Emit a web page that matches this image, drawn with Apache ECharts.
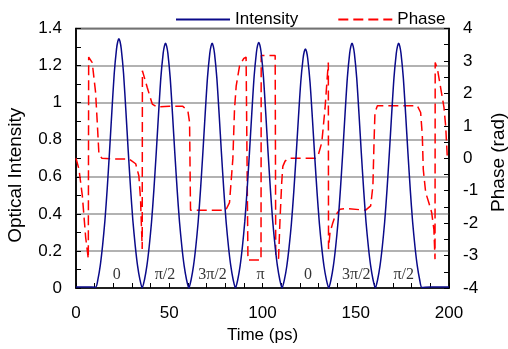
<!DOCTYPE html>
<html>
<head>
<meta charset="utf-8">
<script src="https://cdn.jsdelivr.net/npm/echarts@6/dist/echarts.min.js"></script>
<style>
html,body{margin:0;padding:0;background:#fff;}
#chart{width:508px;height:349px;}
</style>
</head>
<body>
<div id="chart"></div>
<script>
// Intensity samples [time ps, optical intensity]
const intensity = [
[0,0.005],[5,0.006],[10.5,0.004],
[11.75,0.047],[13,0.121],[14.25,0.229],[15.5,0.363],[16.75,0.538],[18,0.74],[19.25,0.955],[20.5,1.157],[21.75,1.291],[22.4,1.33],[23,1.345],[23.6,1.33],[24.25,1.291],[25.5,1.157],[26.75,0.955],[28,0.74],[29.25,0.538],[30.5,0.363],[31.75,0.229],[33,0.121],[34.25,0.047],[35.5,0],
[36.75,0.046],[38,0.119],[39.25,0.224],[40.5,0.356],[41.75,0.528],[43,0.726],[44.25,0.937],[45.5,1.135],[46.75,1.267],[47.4,1.305],[48,1.32],[48.6,1.305],[49.25,1.267],[50.5,1.135],[51.75,0.937],[53,0.726],[54.25,0.528],[55.5,0.356],[56.75,0.224],[58,0.119],[59.25,0.046],[60.5,0],
[61.75,0.046],[63,0.119],[64.25,0.224],[65.5,0.356],[66.75,0.528],[68,0.726],[69.25,0.937],[70.5,1.135],[71.75,1.267],[72.4,1.305],[73,1.32],[73.6,1.305],[74.25,1.267],[75.5,1.135],[76.75,0.937],[78,0.726],[79.25,0.528],[80.5,0.356],[81.75,0.224],[83,0.119],[84.25,0.046],[85.5,0],
[86.75,0.046],[88,0.119],[89.25,0.225],[90.5,0.358],[91.75,0.53],[93,0.729],[94.25,0.941],[95.5,1.14],[96.75,1.272],[97.4,1.31],[98,1.325],[98.6,1.31],[99.25,1.272],[100.5,1.14],[101.75,0.941],[103,0.729],[104.25,0.53],[105.5,0.358],[106.75,0.225],[108,0.119],[109.25,0.046],[110.5,0],
[111.75,0.045],[113,0.116],[114.25,0.219],[115.5,0.348],[116.75,0.516],[118,0.71],[119.25,0.916],[120.5,1.109],[121.75,1.238],[122.4,1.276],[123,1.29],[123.6,1.276],[124.25,1.238],[125.5,1.109],[126.75,0.916],[128,0.71],[129.25,0.516],[130.5,0.348],[131.75,0.219],[133,0.116],[134.25,0.045],[135.5,0],
[136.75,0.046],[138,0.119],[139.25,0.224],[140.5,0.356],[141.75,0.528],[143,0.726],[144.25,0.937],[145.5,1.135],[146.75,1.267],[147.4,1.305],[148,1.32],[148.6,1.305],[149.25,1.267],[150.5,1.135],[151.75,0.937],[153,0.726],[154.25,0.528],[155.5,0.356],[156.75,0.224],[158,0.119],[159.25,0.046],[160.5,0],
[161.75,0.046],[163,0.119],[164.25,0.224],[165.5,0.356],[166.75,0.528],[168,0.726],[169.25,0.937],[170.5,1.135],[171.75,1.267],[172.4,1.305],[173,1.32],[173.6,1.305],[174.25,1.267],[175.5,1.135],[176.75,0.937],[178,0.726],[179.25,0.528],[180.5,0.356],[181.75,0.224],[183,0.119],[184.25,0.046],[185.5,0.003],
[190,0.006],[195,0.005],[200,0.006]
];

// Phase samples [time ps, phase rad]
const phase = [
[0,0.0],[1.6,-0.34],[3.4,-1.16],[5.2,-2.45],[6.6,-3.1],[6.8,3.12],[8.7,2.95],[10.5,2.03],[11.4,1.1],[12.3,0.12],[13.9,0.0],[20,-0.02],[28.4,-0.02],[32,-0.17],[33.7,-0.54],[34.6,-1.25],[35.5,-2.8],[35.6,2.7],[36.4,2.54],[38.2,2.18],[40.9,1.67],[43.5,1.58],[50,1.6],[57.3,1.6],[60,1.46],[60.9,1.1],[61.4,-1.6],[70,-1.6],[80.3,-1.6],[82.3,-1.37],[84.1,-0.02],[85,1.52],[85.9,2.23],[87.7,2.85],[90,3.08],[91.2,3.12],[92.1,3.12],[92.2,-3.14],[99.2,-3.14],[99.3,3.17],[106.8,3.17],[107.1,-3.0],[108.6,-3.1],[109.4,-1.88],[110.3,-0.75],[110.9,-0.25],[112.1,-0.09],[113.9,0.0],[128.2,0.0],[130,0.12],[131.8,0.49],[133.5,1.52],[135.3,2.95],[135.4,-2.8],[136.2,-2.29],[137.5,-2.03],[138.9,-1.78],[141.6,-1.57],[144.3,-1.55],[155.3,-1.6],[158,-1.47],[159.2,-0.85],[159.8,0.49],[160.3,1.41],[161.6,1.62],[183,1.62],[184.8,1.41],[185.7,0.69],[186.2,-0.34],[187.5,-1.06],[189.2,-1.37],[190.7,-1.67],[191.9,-2.19],[192.5,-3.11],[192.6,2.95],[193.8,2.75],[195.5,2.18],[197.3,1.57],[198.2,1.0],[199.1,0.02]
];

// Phase annotations under each pulse
const phaseLabels = ['0','π/2','3π/2','π','0','3π/2','π/2'];
const phaseLabelTimes = [21.8, 47.7, 73.2, 98.9, 124.4, 150.3, 175.7];
const phaseLabelLevel = 0.07;

const FONT = '"Liberation Sans", Arial, sans-serif';
const chart = echarts.init(document.getElementById('chart'), null, {renderer:'canvas'});

const labelData = phaseLabels.map((s,i)=>({name:s, value:[phaseLabelTimes[i], phaseLabelLevel]}));

chart.setOption({
  animation:false,
  backgroundColor:'#fff',
  textStyle:{fontFamily:FONT, color:'#000'},
  legend:{
    data:['Intensity','Phase'],
    left:170, top:6,
    itemWidth:54, itemHeight:14, itemGap:39,
    itemStyle:{opacity:0},
    textStyle:{fontFamily:FONT, fontSize:17, color:'#000'}
  },
  grid:{left:76, right:59, top:28.5, bottom:61, show:true, borderColor:'#000', borderWidth:1.5, backgroundColor:'transparent', containLabel:false, outerBoundsMode:'none'},
  xAxis:{
    type:'value', min:0, max:200, interval:50,
    name:'Time (ps)', nameLocation:'middle', nameGap:38,
    nameTextStyle:{fontFamily:FONT, fontSize:17, color:'#000'},
    axisLine:{lineStyle:{color:'#000', width:1.5}},
    axisTick:{inside:true, length:5, lineStyle:{color:'#000'}},
    minorTick:{show:true, splitNumber:5, length:5, lineStyle:{color:'#000'}},
    axisLabel:{fontFamily:FONT, fontSize:17, color:'#000', margin:17},
    splitLine:{show:false}
  },
  yAxis:[{
    type:'value', min:0, max:1.4, interval:0.2, position:'left',
    name:'Optical Intensity', nameLocation:'middle', nameGap:51,
    nameTextStyle:{fontFamily:FONT, fontSize:19, color:'#000', padding:[0,34,0,0]},
    axisLine:{show:true, lineStyle:{color:'#000', width:1.5}},
    axisTick:{show:true, inside:true, length:5, lineStyle:{color:'#000'}},
    minorTick:{show:true, splitNumber:2, length:5, lineStyle:{color:'#000'}},
    axisLabel:{fontFamily:FONT, fontSize:17, color:'#000', margin:14},
    splitLine:{show:true, lineStyle:{color:'#999', width:1.6}}
  },{
    type:'value', min:-4, max:4, interval:1, position:'right',
    name:'Phase (rad)', nameLocation:'middle', nameGap:40,
    nameTextStyle:{fontFamily:FONT, fontSize:19, color:'#000', padding:[0,8,0,0]},
    axisLine:{show:true, lineStyle:{color:'#000', width:1.5}},
    axisTick:{show:true, inside:true, length:5, lineStyle:{color:'#000'}},
    minorTick:{show:true, splitNumber:2, length:5, lineStyle:{color:'#000'}},
    axisLabel:{fontFamily:FONT, fontSize:17, color:'#000', margin:14},
    splitLine:{show:false}
  }],
  series:[{
    name:'Intensity', type:'line', yAxisIndex:0, data:intensity,
    showSymbol:false, symbol:'none', smooth:0.25,
    lineStyle:{color:'#0a0a8a', width:1.5},
    itemStyle:{color:'#0a0a8a'}, z:3
  },{
    name:'Phase', type:'line', yAxisIndex:1, data:phase,
    showSymbol:false, symbol:'none', smooth:false,
    lineStyle:{color:'#ff0000', width:1.5, type:[10,5]},
    itemStyle:{color:'#ff0000'}, z:2
  },{
    name:'labels', type:'scatter', yAxisIndex:0, data:labelData,
    symbolSize:0, silent:true,
    label:{show:true, position:'inside', formatter:p=>p.name,
      fontFamily:'"Liberation Serif", "Times New Roman", serif', fontSize:16, color:'#000'},
    z:4
  }]
});
</script>
</body>
</html>
